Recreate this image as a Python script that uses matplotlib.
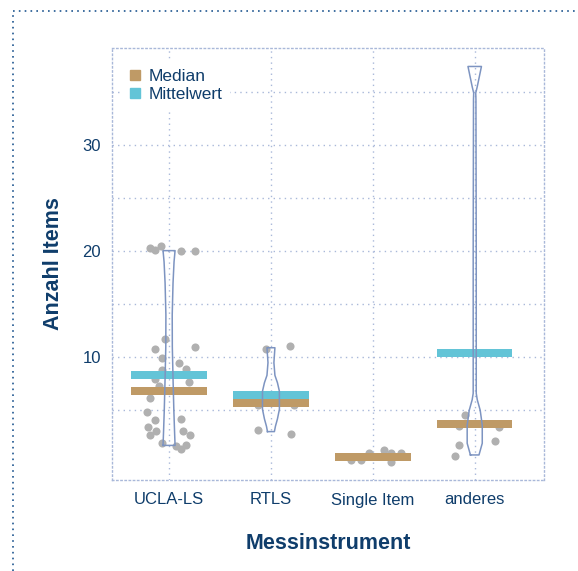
import numpy as np
import matplotlib.pyplot as plt
from matplotlib.lines import Line2D

plt.rcParams['font.family'] = ['Liberation Sans', 'DejaVu Sans']

navy = '#0f3d6b'
grid_col = '#a9b8d9'
tan = '#bf9a66'
cyan = '#63c4d7'
dot_col = '#b0b0b0'
violin_col = '#7d94c1'

categories = ['UCLA-LS', 'RTLS', 'Single Item', 'anderes']

# Mittelwert / Median pro Messinstrument
mittelwert = [8.33, 6.44, 0.65, 10.40]
median = [6.78, 5.69, 0.65, 3.74]

# Einzelwerte (jitter in Kategorie-Einheiten, Anzahl Items)
ucla_jit = [-0.19, -0.14, -0.08, 0.12, 0.25, -0.04, -0.14, 0.25, -0.07, 0.10,
            -0.07, 0.17, -0.14, 0.20, -0.10, -0.19, -0.22, -0.14, 0.12, -0.21,
            -0.13, -0.19, 0.14, 0.21, -0.07, 0.07, 0.12, 0.17]
ucla_val = [20.29, 20.13, 20.44, 20.03, 20.03, 11.71, 10.80, 10.96, 9.89, 9.51,
            8.82, 8.89, 7.95, 7.63, 7.32, 6.21, 4.89, 4.11, 4.18, 3.39,
            3.01, 2.67, 3.01, 2.67, 1.92, 1.66, 1.38, 1.76]
rtls_jit = [-0.05, 0.19, -0.13, 0.20, -0.13, 0.23]
rtls_val = [10.80, 11.02, 3.17, 2.77, 5.53, 5.53]
single_jit = [-0.21, -0.12, -0.04, 0.11, 0.18, 0.18, 0.28]
single_val = [0.34, 0.34, 1.03, 1.22, 1.03, 0.18, 1.03]
anderes_jit = [-0.10, -0.15, 0.24, -0.15, 0.20, -0.19]
anderes_val = [4.58, 3.55, 3.41, 1.71, 2.07, 0.69]

# Violin-Umrisse (Items, halbe Breite in Kategorie-Einheiten)
ucla_vy = [1.7, 3, 5, 8, 11, 14, 17, 19, 20.05]
ucla_vw = [0.059, 0.054, 0.047, 0.039, 0.032, 0.031, 0.039, 0.049, 0.059]
rtls_vy = [3.0, 3.5, 4.2, 5.1, 6.8, 7.6, 8.3, 9.5, 10.9]
rtls_vw = [0.034, 0.044, 0.064, 0.083, 0.083, 0.064, 0.039, 0.029, 0.039]
anderes_vy = [0.8, 1.9, 3.6, 5.0, 6.0, 6.6, 20, 34.3, 34.9, 35.5, 37.4]
anderes_vw = [0.042, 0.074, 0.074, 0.054, 0.025, 0.015, 0.015, 0.012, 0.010, 0.025, 0.066]

points = [(ucla_jit, ucla_val), (rtls_jit, rtls_val),
          (single_jit, single_val), (anderes_jit, anderes_val)]
violins = {0: (ucla_vy, ucla_vw), 1: (rtls_vy, rtls_vw), 3: (anderes_vy, anderes_vw)}

fig = plt.figure(figsize=(5.78, 5.71), dpi=100)
ax = fig.add_axes([112 / 578, 1 - 480 / 571, 432 / 578, 432 / 571])

# punkte
for i, (jit, val) in enumerate(points):
    ax.scatter(np.array(jit) + i, val, s=34, color=dot_col, lw=0, zorder=2)

# Mittelwert + Median Balken
x = np.arange(len(categories))
bar_h = 0.75
ax.bar(x, bar_h, bottom=np.array(mittelwert) - bar_h / 2, width=0.74,
       color=cyan, zorder=3)
ax.bar(x, bar_h, bottom=np.array(median) - bar_h / 2, width=0.74,
       color=tan, zorder=3)

# violins
for i, (vy, vw) in violins.items():
    vy = np.array(vy)
    vw = np.array(vw)
    xs = np.concatenate([i - vw, (i + vw)[::-1], [i - vw[0]]])
    ys = np.concatenate([vy, vy[::-1], [vy[0]]])
    ax.plot(xs, ys, color=violin_col, lw=1.1, zorder=4)

ax.set_xlim(-0.56, 3.68)
ax.set_ylim(-1.56, 39.14)
ax.set_xticks(x)
ax.set_xticklabels(categories)
ax.set_yticks([10, 20, 30])
ax.set_yticks([5, 15, 25, 35], minor=True)
ax.tick_params(axis='both', which='both', length=0, colors=navy, labelsize=12)
ax.tick_params(axis='x', pad=9)
ax.tick_params(axis='y', pad=8)

dotted = (0, (1, 3))
ax.grid(axis='y', which='both', color=grid_col, lw=1, linestyle=dotted, zorder=0)
ax.grid(axis='x', color=grid_col, lw=1, linestyle=dotted, zorder=0)
ax.set_axisbelow(True)
for sp in ax.spines.values():
    sp.set_color(grid_col)
    sp.set_linestyle((0, (1, 2)))
    sp.set_linewidth(1)

ax.set_xlabel('Messinstrument', fontsize=15.5, fontweight='bold', color=navy, va='center')
ax.xaxis.set_label_coords(0.5, -0.147)
ax.set_ylabel('Anzahl Items', fontsize=15.5, fontweight='bold', color=navy, va='center')
ax.yaxis.set_label_coords(-0.135, 0.5)

handles = [Line2D([], [], marker='s', ls='', color=tan, markersize=6.5),
           Line2D([], [], marker='s', ls='', color=cyan, markersize=6.5)]
leg = ax.legend(handles, ['Median', 'Mittelwert'], loc='upper left',
                bbox_to_anchor=(0.021, 0.968), borderaxespad=0, fontsize=12.5,
                handlelength=0.8, handletextpad=0.4, labelspacing=0.15,
                frameon=True, facecolor='white', edgecolor='none', framealpha=1)
for t in leg.get_texts():
    t.set_color(navy)

# aeusserer Rahmen
frame_col = '#1f5690'
fig.add_artist(Line2D([13 / 578, 13 / 578], [0, 1 - 11 / 571], transform=fig.transFigure,
                      color=frame_col, lw=1.2, linestyle=(0, (1, 2.5))))
fig.add_artist(Line2D([13 / 578, 1], [1 - 11 / 571, 1 - 11 / 571], transform=fig.transFigure,
                      color=frame_col, lw=1.2, linestyle=(0, (1, 2.5))))

plt.savefig('out.png', dpi=100)
